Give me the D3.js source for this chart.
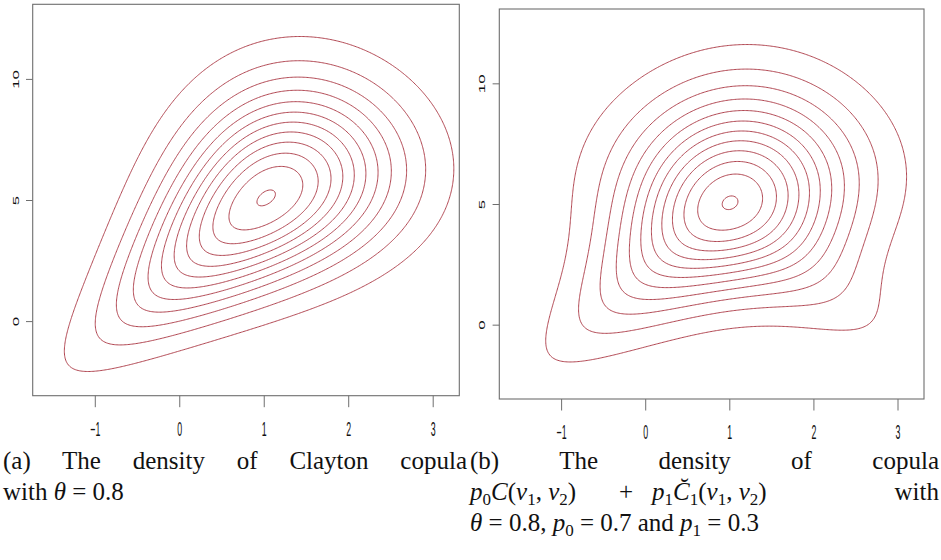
<!DOCTYPE html>
<html>
<head>
<meta charset="utf-8">
<script src="https://cdn.jsdelivr.net/npm/d3@7"></script>
<style>
  body { margin: 0; background: #fff; }
  text { white-space: pre; }
</style>
</head>
<body>
<svg id="chart" width="941" height="560"></svg>
<script>
// values
var xTicks = [-1, 0, 1, 2, 3];
var yTicks = [0, 5, 10];
var levels = [0.005, 0.01, 0.015, 0.02, 0.025, 0.03, 0.035, 0.04, 0.045, 0.05, 0.055, 0.06];
var xDomain = [-1.735, 3.315];
var yDomain = [-3.08, 13.08];

// copula parameters from the captions, normal margins
var theta = 0.8;
var p0 = 0.7;
var p1 = 0.3;
var meanX = 1, sdX = 1;
var meanY = 5, sdY = 3;

var lineColor = '#a8323e';
var axisColor = '#6e6e6e';

var panels = [
  {left: 32.7, top: 4.3, right: 459.3, bottom: 395.7, mix: false},
  {left: 499.3, top: 9, right: 924, bottom: 399, mix: true}
];

var svg = d3.select('#chart');

function phi(z) {
  return Math.exp(-z * z / 2) / Math.sqrt(2 * Math.PI);
}

function Phi(z) {
  var x = Math.abs(z) / Math.SQRT2;
  var t = 1 / (1 + 0.3275911 * x);
  var e = ((((1.061405429 * t - 1.453152027) * t + 1.421413741) * t - 0.284496736) * t + 0.254829592) * t * Math.exp(-x * x);
  return z < 0 ? 0.5 * e : 1 - 0.5 * e;
}

function clayton(u, v) {
  return (1 + theta) * Math.pow(u * v, -1 - theta) *
    Math.pow(Math.pow(u, -theta) + Math.pow(v, -theta) - 1, -2 - 1 / theta);
}

function density(x, y, mix) {
  var zx = (x - meanX) / sdX;
  var zy = (y - meanY) / sdY;
  var u = Phi(zx), v = Phi(zy);
  var c = mix ? p0 * clayton(u, v) + p1 * clayton(1 - u, v) : clayton(u, v);
  return c * phi(zx) * phi(zy) / (sdX * sdY);
}

function drawPanel(p) {
  var x = d3.scaleLinear().domain(xDomain).range([p.left, p.right]);
  var y = d3.scaleLinear().domain(yDomain).range([p.bottom, p.top]);
  var g = svg.append('g');

  var n = 320, m = 320;
  var stepX = (xDomain[1] - xDomain[0]) / (n - 1);
  var stepY = (yDomain[1] - yDomain[0]) / (m - 1);
  var values = new Array(n * m);
  for (var j = 0; j < m; j++) {
    for (var i = 0; i < n; i++) {
      values[j * n + i] = density(xDomain[0] + i * stepX, yDomain[0] + j * stepY, p.mix);
    }
  }

  var contours = d3.contours().size([n, m]).thresholds(levels)(values);
  var proj = d3.geoTransform({
    point: function(gx, gy) {
      this.stream.point(x(xDomain[0] + (gx - 0.5) * stepX), y(yDomain[0] + (gy - 0.5) * stepY));
    }
  });
  var path = d3.geoPath(proj);

  g.selectAll('path.level')
    .data(contours)
    .enter().append('path')
    .attr('class', 'level')
    .attr('d', path)
    .attr('fill', 'none')
    .attr('stroke', lineColor)
    .attr('stroke-width', 0.9);

  g.append('rect')
    .attr('x', p.left).attr('y', p.top)
    .attr('width', p.right - p.left).attr('height', p.bottom - p.top)
    .attr('fill', 'none')
    .attr('stroke', axisColor)
    .attr('stroke-width', 1.1);

  var xAxis = g.append('g')
    .attr('transform', 'translate(0,' + p.bottom + ')')
    .call(d3.axisBottom(x).tickValues(xTicks).tickSize(11.5).tickSizeOuter(0).tickFormat(d3.format('d')));
  xAxis.select('.domain').remove();
  xAxis.selectAll('line').attr('stroke', axisColor);
  xAxis.selectAll('text')
    .attr('y', null).attr('dy', null)
    .attr('transform', 'translate(0,40) scale(1,2.2)')
    .attr('fill', '#111')
    .style('font-family', 'Liberation Sans, Arial, sans-serif')
    .style('font-size', '8.8px');

  var yAxis = g.append('g')
    .attr('transform', 'translate(' + p.left + ',0)')
    .call(d3.axisLeft(y).tickValues(yTicks).tickSize(6.7).tickSizeOuter(0).tickFormat(d3.format('d')));
  yAxis.select('.domain').remove();
  yAxis.selectAll('line').attr('stroke', axisColor);
  yAxis.selectAll('text')
    .attr('x', null).attr('dy', null)
    .attr('text-anchor', 'middle')
    .attr('transform', 'translate(-14,0) scale(1,1.9) rotate(-90)')
    .attr('fill', '#111')
    .style('font-family', 'Liberation Sans, Arial, sans-serif')
    .style('font-size', '8.8px');
}

panels.forEach(drawPanel);

// captions
var capFont = 'Liberation Serif, Times New Roman, serif';

function mathText(x, y, parts, anchor) {
  var t = svg.append('text')
    .attr('x', x).attr('y', y)
    .attr('text-anchor', anchor || 'start')
    .style('font-family', capFont)
    .style('font-size', '25px')
    .attr('fill', '#111');
  var inSub = false;
  parts.forEach(function(q) {
    var kind = q[1] || 'n';
    var ts = t.append('tspan').text(q[0]);
    if (kind === 'i') ts.style('font-style', 'italic');
    if (kind === 's') {
      ts.style('font-size', '17px');
      if (!inSub) ts.attr('dy', 4.5);
      inSub = true;
    } else if (inSub) {
      ts.attr('dy', -4.5);
      inSub = false;
    }
  });
  return t;
}

function justify(t, x0, x1) {
  var w = t.node().getComputedTextLength();
  var gaps = t.text().split(' ').length - 1;
  t.attr('x', x0).style('word-spacing', ((x1 - x0 - w) / gaps) + 'px');
}

justify(mathText(3, 469, [['(a) The density of Clayton copula']]), 3, 467);
mathText(3, 500, [['with '], ['θ', 'i'], [' = 0.8']]);

justify(mathText(470, 469, [['(b) The density of copula']]), 470, 939);
mathText(470, 500, [['p', 'i'], ['0', 's'], ['C', 'i'], ['('], ['v', 'i'], ['1', 's'], [', '], ['v', 'i'], ['2', 's'], [')']]);
mathText(626, 500, [['+']], 'middle');
mathText(652, 500, [['p', 'i'], ['1', 's'], ['C\u0306', 'i'], ['1', 's'], ['('], ['v', 'i'], ['1', 's'], [', '], ['v', 'i'], ['2', 's'], [')']]);
mathText(939, 500, [['with']], 'end');
mathText(470, 531, [['θ', 'i'], [' = 0.8, '], ['p', 'i'], ['0', 's'], [' = 0.7 and '], ['p', 'i'], ['1', 's'], [' = 0.3']]);
</script>
</body>
</html>
